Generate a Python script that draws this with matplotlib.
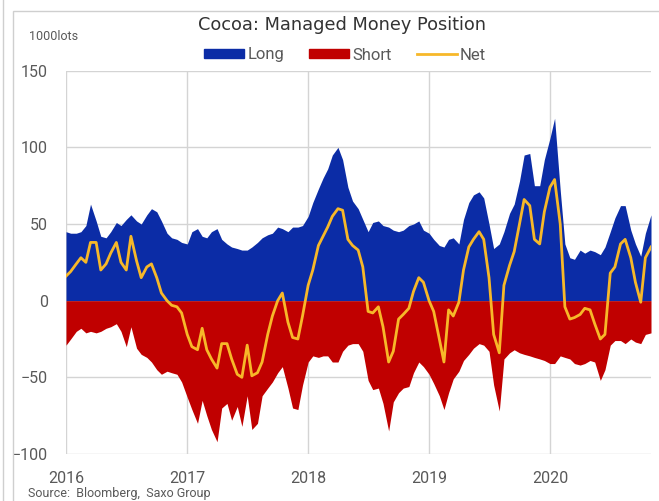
import pandas as pd
import numpy as np
import matplotlib
matplotlib.use("Agg")
import matplotlib.pyplot as plt
import matplotlib.dates as mdates
from matplotlib.patches import Patch, Rectangle
from matplotlib.lines import Line2D

plt.rcParams['font.family'] = ['Roboto', 'DejaVu Sans']

# semi-monthly observations, Jan 2016 - Nov 2020 (1000 lots)
dates = pd.date_range("2016-01-01", periods=117, freq="SMS")

long_pos = [45, 44, 44, 45, 49, 63, 52, 42, 41, 45, 51, 49, 53, 56, 52, 50, 56, 60, 58, 52,
            44, 41, 40, 38, 37, 45, 47, 42, 41, 45, 47, 40, 37, 35, 34, 33, 33, 35, 38, 41,
            43, 44, 48, 47, 45, 48, 48, 49, 55, 64, 73, 80, 86, 95, 100, 92, 74, 65, 60, 53,
            45, 51, 52, 49, 48, 46, 45, 46, 49, 50, 52, 46, 44, 40, 36, 35, 40, 41, 37, 53,
            64, 69, 71, 67, 50, 34, 37, 45, 57, 63, 78, 95, 96, 75, 75, 92, 106, 119, 72, 37,
            28, 27, 33, 31, 33, 32, 30, 35, 45, 54, 62, 62, 46, 37, 29, 44, 56]

short_pos = [-29, -25, -20, -18, -21, -20, -21, -20, -18, -17, -15, -20, -30, -17, -31, -35, -37, -40, -45, -48,
             -46, -47, -48, -53, -63, -71, -80, -65, -75, -84, -92, -70, -67, -78, -69, -82, -62, -84, -80, -62,
             -57, -53, -47, -43, -57, -70, -71, -55, -40, -36, -37, -36, -36, -40, -40, -33, -29, -28, -28, -33,
             -52, -58, -57, -67, -85, -66, -60, -57, -56, -47, -40, -43, -48, -54, -62, -71, -60, -51, -46, -39,
             -35, -31, -28, -29, -33, -55, -72, -38, -34, -32, -34, -35, -36, -37, -38, -39, -41, -41, -36, -37,
             -38, -41, -42, -41, -39, -40, -52, -45, -29, -26, -26, -28, -25, -27, -28, -22, -21]

net_pos = [16, 19, 24, 28, 25, 38, 38, 20, 24, 31, 38, 25, 20, 42, 26, 15, 22, 24, 15, 5,
           0, -3, -4, -8, -22, -30, -32, -18, -32, -38, -44, -28, -28, -38, -48, -50, -29, -49, -47, -40,
           -22, -10, 0, 5, -14, -24, -25, -10, 10, 20, 36, 42, 48, 55, 60, 59, 40, 36, 33, 22,
           -7, -8, -4, -17, -40, -33, -12, -9, -5, 6, 15, 12, 0, -7, -25, -40, -6, -10, -1, 20,
           35, 40, 45, 40, 15, -22, -34, 10, 23, 32, 50, 66, 62, 40, 37, 58, 74, 79, 50, -4,
           -12, -11, -9, -5, -6, -15, -25, -22, 18, 22, 37, 40, 28, 12, -1, 28, 35]

c_long = '#0B2CA6'
c_short = '#C00000'
c_net = '#F7B829'
grey = '#595959'

fig = plt.figure(figsize=(6.59, 5.01), dpi=100)
ax = fig.add_axes([66/659, 47/501, 585/659, 383.3/501])

ax.fill_between(dates, 0, long_pos, color=c_long, linewidth=0, zorder=2)
ax.fill_between(dates, 0, short_pos, color=c_short, linewidth=0, zorder=2)
ax.plot(dates, net_pos, color=c_net, linewidth=2, zorder=3)

ax.set_xlim(dates[0], dates[-1])
ax.set_ylim(-100, 150)
ax.set_yticks(np.arange(-100, 151, 50))
ax.xaxis.set_major_locator(mdates.YearLocator())
ax.xaxis.set_major_formatter(mdates.DateFormatter('%Y'))
ax.grid(True, color='#d4d4d4', linewidth=1, zorder=0)
ax.set_axisbelow(True)
for s in ax.spines.values():
    s.set_visible(False)
ax.tick_params(length=0, labelsize=11.5, colors=grey)
ax.tick_params(axis='y', pad=13)
ax.tick_params(axis='x', pad=12)

fig.text(341.5/659, 1 - 25/501, "Cocoa: Managed Money Position", ha='center', va='center',
         fontsize=12.8, color='#333333', family='DejaVu Sans')
fig.text(29/659, 1 - 37/501, "1000lots", ha='left', va='center', fontsize=9, color=grey)
fig.text(28/659, 1 - 494/501, "Source:  Bloomberg,  Saxo Group", ha='left', va='center',
         fontsize=9, color=grey)

handles = [Patch(color=c_long), Patch(color=c_short), Line2D([], [], color=c_net, linewidth=2)]
fig.legend(handles, ["Long", "Short", "Net"], ncol=3, loc='center', bbox_to_anchor=(345/659, 1 - 55/501),
           frameon=False, fontsize=12, handlelength=2.4, handleheight=0.45, handletextpad=0.2,
           columnspacing=1.5, labelcolor=grey, borderaxespad=0, borderpad=0)

# outer frame lines of the panel
fig.add_artist(Rectangle((13/659, -0.1), 1, 1 - 11/501 + 0.1, transform=fig.transFigure,
                         fill=False, edgecolor='#cfcfcf', linewidth=1))
fig.add_artist(Line2D([3/659, 3/659], [0, 1], transform=fig.transFigure, color='#cfcfcf', linewidth=1))

fig.savefig("out.png", dpi=100)
